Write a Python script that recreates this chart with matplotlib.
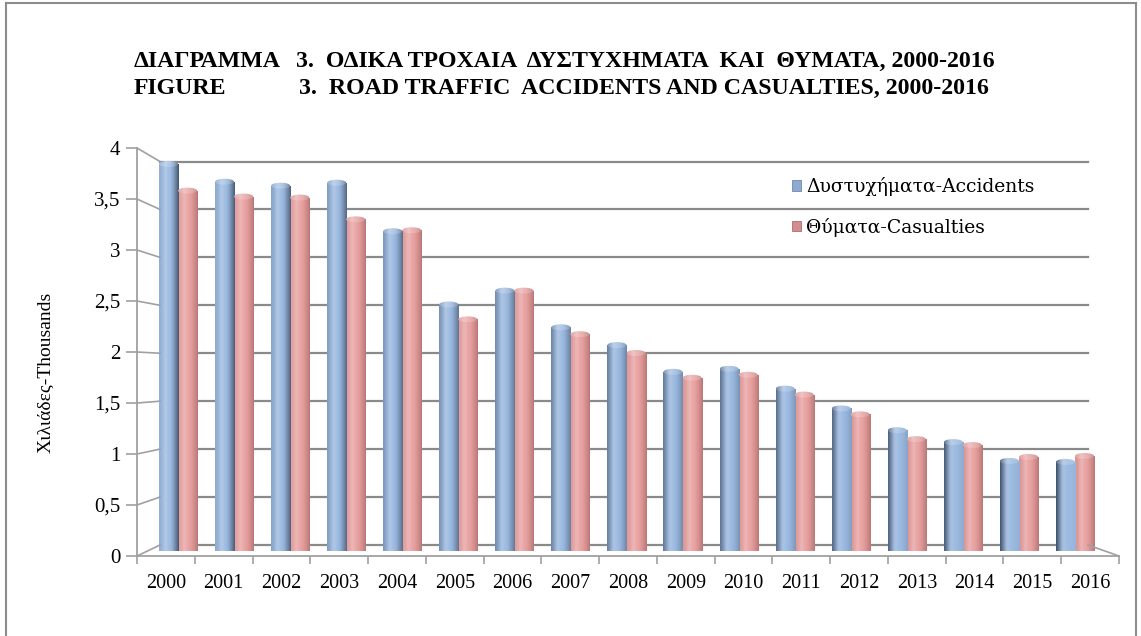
import numpy as np
import matplotlib
matplotlib.use('Agg')
import matplotlib.pyplot as plt
from matplotlib.patches import Patch, Ellipse
from matplotlib.lines import Line2D
from matplotlib.colors import to_rgb

# ---------------- data ----------------
years = [str(y) for y in range(2000, 2017)]
accidents = [3.91, 3.73, 3.69, 3.72, 3.23, 2.49, 2.63, 2.26, 2.08, 1.81,
             1.84, 1.64, 1.44, 1.22, 1.10, 0.91, 0.90]
casualties = [3.64, 3.58, 3.57, 3.35, 3.24, 2.34, 2.63, 2.19, 2.00, 1.75,
              1.78, 1.58, 1.38, 1.13, 1.07, 0.95, 0.96]
yticks = [0, 0.5, 1, 1.5, 2, 2.5, 3, 3.5, 4]
ytick_labels = ['0', '0,5', '1', '1,5', '2', '2,5', '3', '3,5', '4']
series_labels = ['Δυστυχήματα-Accidents', 'Θύματα-Casualties']
title1_a, title1_b = 'ΔΙΑΓΡΑΜΜΑ', '3.  ΟΔΙΚΑ ΤΡΟΧΑΙΑ  ΔΥΣΤΥΧΗΜΑΤΑ  ΚΑΙ  ΘΥΜΑΤΑ, 2000-2016'
title2_a, title2_b = 'FIGURE', '3.  ROAD TRAFFIC  ACCIDENTS AND CASUALTIES, 2000-2016'
ylabel = 'Χιλιάδες-Thousands'

# ---------------- style ----------------
W, H, DPI = 1141, 636, 100
SERIF = ['Liberation Serif', 'DejaVu Serif']
blue_light, blue_dark = np.array(to_rgb('#9dbbe2')), np.array(to_rgb('#33435a'))
red_light, red_dark = np.array(to_rgb('#e8a2a2')), np.array(to_rgb('#9c5858'))
grid_col = '#8a8a8a'
axis_col = '#a0a0a0'

def fx(px):
    return px / W

def fy(py):
    return 1 - py / H

fig = plt.figure(figsize=(W / DPI, H / DPI), dpi=DPI)
fig.patch.set_facecolor('white')

n = len(years)
xlim = (-0.5, n - 0.5)

# back wall (gridlines)
axb = fig.add_axes([fx(160), fy(545), (1088 - 160) / W, (545 - 161.5) / H])
axb.set_xlim(*xlim)
axb.set_ylim(0, 4)
axb.set_yticks(yticks)
axb.set_xticks([])
axb.tick_params(left=False, labelleft=False)
axb.grid(axis='y', color=grid_col, lw=1.6)
for gl in axb.get_ygridlines():
    gl.set_clip_on(False)
for s in axb.spines.values():
    s.set_visible(False)
axb.patch.set_alpha(0)

# bars at mid depth
axbar = fig.add_axes([fx(150), fy(551), (1103 - 150) / W, 396 / H])
axbar.set_xlim(*xlim)
axbar.set_ylim(0, 4)
axbar.axis('off')

# front axis
axf = fig.add_axes([fx(137), fy(556), (1119 - 137) / W, (556 - 148) / H])
axf.set_xlim(*xlim)
axf.set_ylim(0, 4)
axf.patch.set_alpha(0)
for s in ['top', 'right']:
    axf.spines[s].set_visible(False)
for s in ['left', 'bottom']:
    axf.spines[s].set_color(axis_col)
    axf.spines[s].set_linewidth(1.3)
axf.set_yticks(yticks)
axf.set_yticklabels(ytick_labels, family=SERIF, fontsize=15)
axf.tick_params(axis='y', direction='out', length=8, color=axis_col, width=1.2, pad=4)
axf.set_xticks(np.arange(-0.5, n, 1.0))
axf.set_xticklabels([])
axf.tick_params(axis='x', which='major', direction='out', length=6, color=axis_col, width=1.2)
axf.set_xticks(np.arange(n), minor=True)
axf.set_xticklabels(years, minor=True, family=SERIF, fontsize=14.5)
axf.tick_params(axis='x', which='minor', length=0, pad=13)

# ---------------- bars ----------------
bw = 0.34
x = np.arange(n)
bars_a = axbar.bar(x - bw / 2, accidents, width=bw, color=blue_light, lw=0, zorder=2)
bars_c = axbar.bar(x + bw / 2, casualties, width=bw, color=red_light, lw=0, zorder=2)

fig.canvas.draw()
px_per_unit = axbar.transData.transform((0, 1))[1] - axbar.transData.transform((0, 0))[1]
cap_h = 6.0 / px_per_unit


def profile(light, dark, left_dark, right_dark, npts=64):
    t = np.linspace(0, 1, npts)
    wl = left_dark * np.clip(1 - t / 0.45, 0, 1) ** 1.4
    wr = right_dark * np.clip((t - 0.55) / 0.45, 0, 1) ** 1.4
    w = np.clip(wl + wr, 0, 1)
    hl = 0.22 * np.exp(-((t - 0.32) / 0.13) ** 2)
    rgb = light[None, :] * (1 - w)[:, None] + dark[None, :] * w[:, None]
    rgb = rgb + (1 - rgb) * (hl * (1 - w))[:, None]
    return np.clip(rgb[None, :, :], 0, 1)


def shade(bars, light, dark, kind):
    for i, b in enumerate(bars):
        p = i / (n - 1)
        if kind == 'a':
            ld, rd = 0.10 + 0.8 * p, 0.8 * (1 - p) + 0.05
        else:
            ld, rd = 0.05 + 0.15 * p, 0.6
        img = profile(light, dark, ld, rd)
        x0, w, h = b.get_x(), b.get_width(), b.get_height()
        im = axbar.imshow(img, extent=[x0, x0 + w, 0, h], aspect='auto',
                          interpolation='bilinear', zorder=3)
        im.set_clip_path(b)
        ell = Ellipse((x0 + w / 2, h), width=w, height=cap_h, facecolor='none',
                      edgecolor='none', zorder=3)
        axbar.add_patch(ell)
        cap = np.clip(img + (1 - img) * 0.18, 0, 1)
        im2 = axbar.imshow(cap, extent=[x0, x0 + w, h - cap_h, h + cap_h],
                           aspect='auto', interpolation='bilinear', zorder=4)
        im2.set_clip_path(ell)


shade(bars_c, red_light, red_dark, 'c')
shade(bars_a, blue_light, blue_dark, 'a')
axbar.set_xlim(*xlim)
axbar.set_ylim(0, 4)

# ---------------- 3D frame (side wall / floor) ----------------
fig.canvas.draw()
inv = fig.transFigure.inverted()


def link(p_front, p_back, **kw):
    a = inv.transform(axf.transData.transform(p_front))
    b = inv.transform(axb.transData.transform(p_back))
    fig.add_artist(Line2D([a[0], b[0]], [a[1], b[1]], transform=fig.transFigure, **kw))


for v in yticks:
    link((xlim[0], v), (xlim[0], v), color=axis_col, lw=1.2, zorder=1)
link((xlim[1], 0), (xlim[1], 0), color=axis_col, lw=1.2, zorder=1)

# ---------------- texts ----------------
tkw = dict(family=SERIF, fontsize=17.2, fontweight='bold', va='baseline', ha='left')
fig.text(fx(134), fy(67), title1_a, **tkw)
fig.text(fx(296), fy(67), title1_b, **tkw)
fig.text(fx(134), fy(94), title2_a, **tkw)
fig.text(fx(299), fy(94), title2_b, **tkw)

fig.text(fx(46), fy(372), ylabel, family=SERIF, fontsize=14, rotation=90,
         ha='center', va='center')

handles = [Patch(facecolor='#8eaad2', edgecolor='#6f88ad', lw=0.6),
           Patch(facecolor='#d08e8e', edgecolor='#b06d6d', lw=0.6)]
fig.legend(handles, series_labels, loc='upper left', bbox_to_anchor=(fx(792), fy(177)),
           frameon=False, prop={'family': ['DejaVu Serif'], 'size': 13.5},
           handlelength=0.5, handleheight=0.5, handletextpad=0.25,
           labelspacing=1.15, borderpad=0, borderaxespad=0)

# border
for xs, ys in [([6, 6], [3, 640]), ([6, 1136], [3, 3]), ([1136, 1136], [3, 640])]:
    fig.add_artist(Line2D([fx(v) for v in xs], [fy(v) for v in ys],
                          transform=fig.transFigure, color='#8c8c8c', lw=1.5))

fig.savefig('out.png', dpi=DPI)
